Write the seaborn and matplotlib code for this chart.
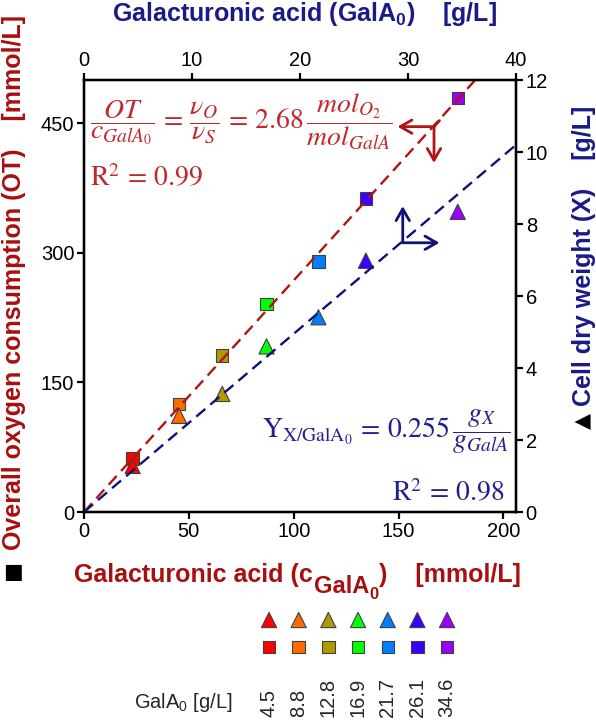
import numpy as np
import pandas as pd
import matplotlib.pyplot as plt
import seaborn as sns
from matplotlib.transforms import blended_transform_factory

# initial galacturonic acid of the seven batches [g/L]
gala_gl = [4.5, 8.8, 12.8, 16.9, 21.7, 26.1, 34.6]
# overall oxygen consumption [mmol/L]  (squares, left axis)
ot_mmol = [62, 125, 181, 241, 290, 363, 479]
# cell dry weight [g/L]  (triangles, right axis)
cdw_gl = [1.28, 2.67, 3.28, 4.6, 5.41, 6.98, 8.34]
colors = ['#ff0000', '#ff6a00', '#b09a00', '#00ff00', '#0080ff', '#3a00ff', '#9a00ff']

mw_gala = 194.14      # g/mol
slope_ot = 2.68       # mol O2 / mol GalA
slope_x = 0.255       # g X / g GalA
x_fit = [0, 206]

dark_red = '#a80f0f'
navy = '#1a1a88'
eq_red = '#c0282d'
eq_blue = '#22228f'

df = pd.DataFrame({'gl': gala_gl, 'ot': ot_mmol, 'cdw': cdw_gl})
df['mmol'] = df['gl'] / mw_gala * 1000
df['lab'] = [str(v) for v in gala_gl]
pal = dict(zip(df['lab'], colors))

fit = pd.DataFrame({'x': x_fit})
fit['ot'] = slope_ot * fit['x']
fit['cdw'] = slope_x * fit['x'] * mw_gala / 1000

sns.set_theme(style='white')
plt.rcParams['font.family'] = ['Liberation Sans', 'DejaVu Sans']
plt.rcParams['mathtext.fontset'] = 'custom'
plt.rcParams['mathtext.rm'] = 'Liberation Sans'
plt.rcParams['mathtext.it'] = 'Liberation Sans:italic'
plt.rcParams['mathtext.bf'] = 'Liberation Sans:bold'

W, H = 596, 720
fig = plt.figure(figsize=(W / 100, H / 100), dpi=100)
ax = fig.add_axes([84 / W, 1 - 512 / H, 432 / W, 432 / H])
ax_r = ax.twinx()
ax_t = ax.twiny()

sns.scatterplot(data=df, x='mmol', y='ot', hue='lab', palette=pal, marker='s', s=80,
                edgecolor='#404040', linewidth=0.8, legend=False, ax=ax, zorder=3)
sns.lineplot(data=fit, x='x', y='ot', color='#b01414', lw=1.7, ls=(0, (5, 2.8)), ax=ax, zorder=4)

sns.scatterplot(data=df, x='mmol', y='cdw', hue='lab', palette=pal, marker='^', s=120,
                edgecolor='#404040', linewidth=0.8, legend=False, ax=ax_r, zorder=3)
sns.lineplot(data=fit, x='x', y='cdw', color='#10107a', lw=1.7, ls=(0, (5, 2.8)), ax=ax_r, zorder=4)

ax.set_xlim(0, 206)
ax.set_ylim(0, 500)
ax_r.set_ylim(0, 12)
ax_t.set_xlim(0, 40)
ax.set_xticks([0, 50, 100, 150, 200])
ax.set_yticks([0, 150, 300, 450])
ax_r.set_yticks(range(0, 13, 2))
ax_t.set_xticks(range(0, 41, 10))
for a in (ax, ax_r, ax_t):
    a.set_xlabel('')
    a.set_ylabel('')
    for sp in a.spines.values():
        sp.set_linewidth(1.6)
        sp.set_color('black')
    a.tick_params(direction='out', length=5, width=1.6, labelsize=14.5, colors='black', pad=2)
ax.tick_params(left=True, bottom=True)
ax_r.tick_params(right=True)
ax_t.tick_params(top=True)

# axis titles
fig.text(304 / W, 1 - 14 / H, r'Galacturonic acid (GalA$_\mathbf{0}$)    [g/L]', color=navy,
         fontsize=18, fontweight='bold', ha='center', va='center')

# bottom title with a large subscript, built from chained pieces
yb = 1 - 582 / H
t1 = fig.text(74 / W, yb, 'Galacturonic acid (c', color=dark_red, fontsize=18,
              fontweight='bold', ha='left', va='baseline')
sub = plt.annotate('GalA', xy=(1, yb), xycoords=(t1, 'figure fraction'), xytext=(1, -8),
                   textcoords='offset points', color=dark_red, fontsize=17, fontweight='bold',
                   ha='left', va='baseline', annotation_clip=False)
sub0 = plt.annotate('0', xy=(1, yb), xycoords=(sub, 'figure fraction'), xytext=(0, -12),
                    textcoords='offset points', color=dark_red, fontsize=12, fontweight='bold',
                    ha='left', va='baseline', annotation_clip=False)
plt.annotate(')    [mmol/L]', xy=(1, yb), xycoords=(sub0, 'figure fraction'), xytext=(0, 0),
             textcoords='offset points', color=dark_red, fontsize=18, fontweight='bold',
             ha='left', va='baseline', annotation_clip=False)

fig.text(14 / W, 1 - 282 / H, 'Overall oxygen consumption (OT)    [mmol/L]', color=dark_red,
         fontsize=18, fontweight='bold', rotation=90, ha='center', va='center')
fig.text(13 / W, 1 - 572 / H, '\u25a0', color='black', fontsize=15, ha='center', va='center',
         family=['DejaVu Sans'])
fig.text(584 / W, 1 - 256 / H, 'Cell dry weight (X)    [g/L]', color=navy,
         fontsize=18, fontweight='bold', rotation=90, ha='center', va='center')
fig.text(583 / W, 1 - 421 / H, '\u25b2', color='black', fontsize=15, ha='center', va='center',
         rotation=90, family=['DejaVu Sans'])

# fit equations
fig.text(90 / W, 1 - 122 / H,
         r'$\dfrac{OT}{c_{GalA_0}}\,=\,\dfrac{\nu_O}{\nu_S}\,=\,2.68\,\dfrac{mol_{O_2}}{mol_{GalA}}$',
         color=eq_red, fontsize=20, ha='left', va='center', math_fontfamily='stix')
fig.text(90 / W, 1 - 179 / H, r'$\mathrm{R}^2\,=\,0.99$', color=eq_red, fontsize=20,
         ha='left', va='center', math_fontfamily='stix')
fig.text(511 / W, 1 - 432 / H, r'$\mathrm{Y_{X/GalA_0}}\,=\,0.255\,\dfrac{g_X}{g_{GalA}}$',
         color=eq_blue, fontsize=20, ha='right', va='center', math_fontfamily='stix')
fig.text(504 / W, 1 - 494 / H, r'$\mathrm{R}^2\,=\,0.98$', color=eq_blue, fontsize=20,
         ha='right', va='center', math_fontfamily='stix')

# arrows pointing at the axis each fit belongs to
aprops = dict(arrowstyle='->,head_length=0.7,head_width=0.4', lw=2, shrinkA=0, shrinkB=0)
ax.annotate('', xy=(149.5, 446), xytext=(166.9, 446), arrowprops=dict(aprops, color='#b01414'))
ax.annotate('', xy=(166.9, 404), xytext=(166.9, 446), arrowprops=dict(aprops, color='#b01414'))
ax.plot([166.9, 169.5], [446, 453], color='#b01414', lw=2)
ax.annotate('', xy=(152, 354), xytext=(152, 311.6), arrowprops=dict(aprops, color='#10107a'))
ax.annotate('', xy=(169.5, 311.6), xytext=(152, 311.6), arrowprops=dict(aprops, color='#10107a'))

# colour key under the chart
lg = fig.add_axes([254.2 / W, 1 - 660.5 / H, 207.7 / W, 54 / H])
key = df.assign(pos=range(len(df)), row_t=0, row_s=1)
sns.scatterplot(data=key, x='pos', y='row_t', hue='lab', palette=pal, marker='^', s=120,
                edgecolor='#404040', linewidth=0.8, legend=False, ax=lg)
sns.scatterplot(data=key, x='pos', y='row_s', hue='lab', palette=pal, marker='s', s=80,
                edgecolor='#404040', linewidth=0.8, legend=False, ax=lg)
lg.set_xlim(-0.5, 6.5)
lg.set_ylim(1.5, -0.5)
lg.axis('off')
tr = blended_transform_factory(lg.transData, fig.transFigure)
for i, v in enumerate(gala_gl):
    lg.text(i, 1 - 717 / H, str(v), transform=tr, rotation=90, ha='center', va='bottom',
            fontsize=14.5, clip_on=False)
fig.text(233 / W, 1 - 703 / H, r'GalA$_0$ [g/L]', fontsize=14.5, ha='right', va='center')

fig.savefig('out.png', dpi=100)
